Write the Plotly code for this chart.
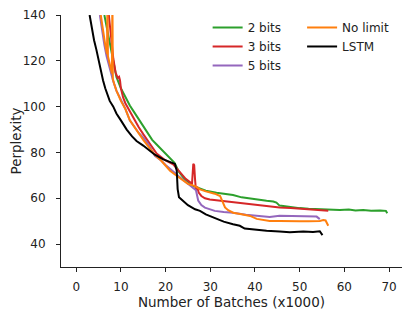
import plotly.graph_objects as go

# ---- data ----
x_2bits = [6.3, 7.0, 7.5, 8.0, 8.5, 9.0, 10, 11, 12, 13, 14, 15, 16, 17, 18, 19, 20, 21, 22, 22.5,
           23, 24, 24.7, 26, 27.7, 29, 31.4, 33, 35.1, 37, 38.9, 41, 42.6, 44.1, 44.8, 45.5, 46.5,
           48, 50, 52, 54.5, 56.8, 59, 61, 62.5, 64.2, 66, 68, 69.3, 69.6]
y_2bits = [140, 133, 128, 122, 117, 113, 108, 104, 100.5, 97.5, 94.5, 91, 88, 85.5, 83.5, 81.5, 79.5, 77.5, 75.5, 73.5,
           71.5, 69, 67.5, 65.5, 64.2, 63.3, 62.4, 62, 61.4, 60.4, 59.8, 59.4, 58.9, 58.6, 58.1, 56.8, 56.5,
           56.1, 55.7, 55.4, 55.2, 54.8, 54.9, 55.1, 54.7, 54.9, 54.6, 54.7, 54.5, 53.5]

x_3bits = [7.3, 7.8, 8.3, 8.8, 9.3, 9.6, 9.8, 10.0, 10.5, 11, 12, 12.8, 14, 15, 16.5, 18, 19, 20, 21.7, 22.5,
           23.5, 24.5, 25.5, 25.9, 26.2, 26.4, 26.6, 26.8, 27.1, 27.4, 28, 28.8, 29.9, 32, 35.1, 38, 40,
           42.6, 45.5, 48, 50.8, 53, 55, 56.4]
y_3bits = [140, 130, 121, 115, 112.5, 113, 111.5, 108, 104, 101.5, 98, 95, 91, 88, 83.5, 79.5, 78, 76.5, 74.8, 73,
           70.5, 68.5, 67, 66, 75, 74.5, 68, 63.5, 65, 62.5, 61, 60, 59.5, 59, 58.3, 57.6, 57.2,
           56.7, 56, 55.8, 55.3, 55, 54.8, 54.5]

x_5bits = [5.3, 5.8, 6.3, 6.8, 7.2, 7.8, 8.3, 9, 10, 11, 12, 13, 14, 15, 16, 17.6, 19, 20, 21, 22.1,
           23, 24, 25, 26, 26.8, 27.3, 28, 28.8, 30, 31, 33, 35.1, 38, 40.4, 43.3, 45.5, 48, 50,
           52, 53.8, 54.5]
y_5bits = [140, 133, 127, 122, 119, 115, 111, 107, 103, 99, 94, 91, 88.5, 86.5, 84, 78.5, 76.5, 74.5, 73, 71,
           69.5, 68, 66.5, 64.8, 63.5, 59, 57, 55.9, 55, 54.5, 54, 53.7, 52.8, 52.3, 51.8, 52.4, 52.2, 52.3,
           52, 52, 50.9]

x_nolimit = [5.5, 6.0, 6.5, 6.9, 7.0, 7.1, 7.5, 8.0, 8.1, 8.2, 8.5, 9, 10, 11, 12, 13, 14, 15, 16, 17.6,
             19, 20, 21, 22.1, 23, 24, 25, 26.6, 27.7, 29, 31, 32.2, 32.8, 33.3, 34, 35.1, 37, 38.9,
             40.4, 42, 43.3, 45.6, 48, 50, 52, 54.5, 55.3, 55.8, 56.4]
y_nolimit = [140, 133, 127, 123, 150, 122, 119, 114.5, 150, 112, 110, 107, 102.5, 99, 94, 91, 88, 85.5, 83, 79,
             76.5, 74, 72, 70.4, 69, 67.5, 66.3, 65.3, 63.9, 63, 62, 61, 58.5, 56, 54.8, 53.7, 53, 52.3,
             51, 50.5, 50.1, 50.1, 49.9, 50, 50, 50.1, 50.5, 50.3, 48]

x_lstm = [3.0, 3.5, 4.0, 4.5, 5.0, 5.5, 6.0, 6.5, 7.0, 7.5, 8.3, 9, 10, 11.3, 12.5, 13.5, 15, 16.5, 17.6, 19.5,
          21, 22.1, 22.5, 22.7, 23, 23.9, 25, 26.6, 27.7, 29, 31.4, 33, 35.1, 36.6, 37.7, 40, 42.6,
          45.5, 47.8, 50.8, 53, 54.5, 55.1]
y_lstm = [140, 134, 129, 125, 120, 115.5, 111.5, 108, 105, 102.5, 100, 97, 94, 90, 87, 85, 83, 80.5, 79, 77,
          76, 75, 72, 64, 60.5, 58.8, 57, 55.2, 54.5, 53, 51, 49.8, 48.7, 48, 46.8, 46.3, 45.8,
          45.5, 45.2, 45.5, 45.3, 45.6, 43.9]

series = [
    ("2 bits", x_2bits, y_2bits, "#2ca02c", "legend"),
    ("3 bits", x_3bits, y_3bits, "#d62728", "legend"),
    ("5 bits", x_5bits, y_5bits, "#9467bd", "legend"),
    ("No limit", x_nolimit, y_nolimit, "#ff7f0e", "legend2"),
    ("LSTM", x_lstm, y_lstm, "#000000", "legend2"),
]

x_ticks = [0, 10, 20, 30, 40, 50, 60, 70]
y_ticks = [40, 60, 80, 100, 120, 140]

fig = go.Figure()
for name, xs, ys, color, leg in series:
    fig.add_trace(go.Scatter(x=xs, y=ys, mode="lines", name=name,
                             line=dict(color=color, width=2), legend=leg))

tick_font = dict(family="DejaVu Sans", size=12, color="#222222")
title_font = dict(family="DejaVu Sans", size=13.5, color="#222222")
axis_common = dict(showline=True, linecolor="#222222", linewidth=1, ticks="outside",
                   ticklen=4, tickcolor="#222222", showgrid=False, zeroline=False,
                   mirror=False, tickfont=tick_font, automargin=False)

fig.update_layout(
    width=407, height=309,
    margin=dict(l=53, r=13, t=5, b=50),
    plot_bgcolor="white", paper_bgcolor="white",
    font=tick_font,
    xaxis=dict(range=[-3.4, 72.9], tickvals=x_ticks, ticklabelstandoff=5,
               title=dict(text="Number of Batches (x1000)", font=title_font, standoff=2), **axis_common),
    yaxis=dict(range=[30, 140], tickvals=y_ticks, ticklabelstandoff=8,
               title=dict(text="Perplexity", font=title_font, standoff=2), **axis_common),
    legend=dict(x=0.43, y=1.008, xanchor="left", yanchor="top", bgcolor="rgba(0,0,0,0)",
                font=tick_font, tracegroupgap=0),
    legend2=dict(x=0.707, y=1.008, xanchor="left", yanchor="top", bgcolor="rgba(0,0,0,0)",
                 font=tick_font, tracegroupgap=0),
    showlegend=True,
)

fig.write_html("out.html")
